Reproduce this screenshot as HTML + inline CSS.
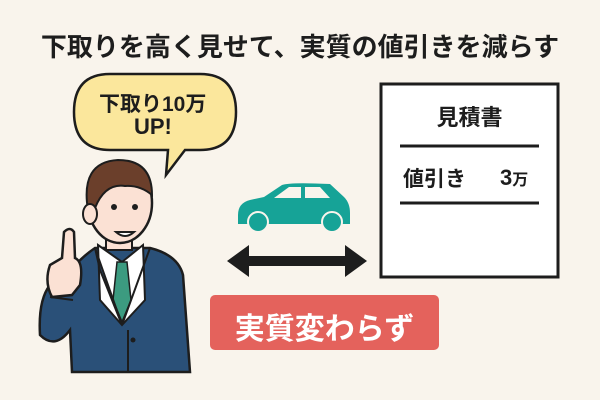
<!DOCTYPE html>
<html><head><meta charset="utf-8"><style>
body{margin:0;width:600px;height:400px;background:#f9f4ec;overflow:hidden;position:relative;font-family:"Liberation Sans","Noto Sans CJK JP",sans-serif;}
.t{position:absolute;font-weight:bold;color:#1d1d1d;white-space:nowrap}
</style></head><body>
<div class="t" style="left:0;width:600px;text-align:center;top:27px;font-size:26px;">下取りを高く見せて、実質の値引きを減らす</div>
<svg width="600" height="400" style="position:absolute;left:0;top:0">
<path d="M110,74 H200 Q236,74 236,112 Q236,150 200,150 H185 L166,175 L168,150 H110 Q74,150 74,112 Q74,74 110,74Z" fill="#fbe79c" stroke="#1d1d1d" stroke-width="2.5"/>
<path d="M95,248 L150,248 Q178,255 183,275 L190,372 H72 L70,330 Q55,350 40,335 Q38,300 50,285 L60,290 Q70,265 95,248Z" fill="#2a5078" stroke="#1d1d1d" stroke-width="2.5"/>
<path d="M98,245 L122,262 L143,245 L145,300 L122,325 L100,300Z" fill="#fff" stroke="#1d1d1d" stroke-width="2"/>
<path d="M117,262 L127,262 L131,300 L122,322 L113,300Z" fill="#3c9b80" stroke="#1d1d1d" stroke-width="1.5"/>
<path d="M95,248 L122,325 L100,270Z M150,248 L122,325 L142,270Z" fill="#2a5078" stroke="#1d1d1d" stroke-width="2"/>
<line x1="128" y1="330" x2="128" y2="372" stroke="#1d1d1d" stroke-width="2"/>
<circle cx="133" cy="340" r="2.5" fill="#1d1d1d"/>
<rect x="106" y="228" width="26" height="22" fill="#fbe1d4" stroke="#1d1d1d" stroke-width="2"/>
<ellipse cx="120" cy="203" rx="32" ry="40" fill="#fbe1d4" stroke="#1d1d1d" stroke-width="2.5"/>
<path d="M88,210 Q80,162 118,160 Q152,160 152,195 Q140,185 125,186 Q105,183 95,208Z" fill="#6b3f2b" stroke="#1d1d1d" stroke-width="2"/>
<ellipse cx="90" cy="214" rx="7" ry="10" fill="#fbe1d4" stroke="#1d1d1d" stroke-width="2"/>
<circle cx="114" cy="207" r="3" fill="#1d1d1d"/><circle cx="135" cy="207" r="3" fill="#1d1d1d"/>
<path d="M116,232 Q125,240 134,232Z" fill="#fff" stroke="#1d1d1d" stroke-width="2"/>
<path d="M64,232 Q70,226 74,232 L75,258 Q84,262 80,285 L72,295 L52,297 Q44,282 50,265 L62,258Z" fill="#fbe1d4" stroke="#1d1d1d" stroke-width="2.5"/>
<path d="M50,297 L73,300" stroke="#1d1d1d" stroke-width="2"/>
<rect x="381" y="84" width="177" height="193" fill="#fff" stroke="#1d1d1d" stroke-width="3"/>
<line x1="400" y1="146" x2="539" y2="146" stroke="#1d1d1d" stroke-width="3"/>
<line x1="400" y1="203" x2="539" y2="203" stroke="#1d1d1d" stroke-width="3"/>
<path d="M238,215 Q238,203 250,200 L264,197 L282,185 Q290,182 330,184 L344,197 Q350,203 350,213 L350,224 L238,224Z" fill="#16a397"/>
<path d="M274,198 L289,187 L301,187 L301,198Z M305,187 L320,187 L330,198 L305,198Z" fill="#f9f4ec"/>
<circle cx="258" cy="222" r="10" fill="#16a397" stroke="#f9f4ec" stroke-width="2"/>
<circle cx="332" cy="222" r="10" fill="#16a397" stroke="#f9f4ec" stroke-width="2"/>
<path d="M227,261 L249,245 L249,256 L345,256 L345,245 L367,261 L345,277 L345,266 L249,266 L249,277Z" fill="#1d1d1d"/>
<rect x="210" y="295" width="229" height="55" rx="5" fill="#e4625c"/>
</svg>
<div class="t" style="left:99px;top:88px;font-size:21px;">下取り10万</div>
<div class="t" style="left:134px;top:114px;font-size:22px;">UP!</div>
<div class="t" style="left:381px;width:177px;text-align:center;top:100px;font-size:22px;">見積書</div>
<div class="t" style="left:403px;top:163px;font-size:21px;">値引き</div>
<div class="t" style="left:500px;top:165px;font-size:22px;">3<span style="font-size:16px">万</span></div>
<div class="t" style="left:210px;width:229px;text-align:center;top:304px;font-size:30px;color:#fff;">実質変わらず</div>
</body></html>
